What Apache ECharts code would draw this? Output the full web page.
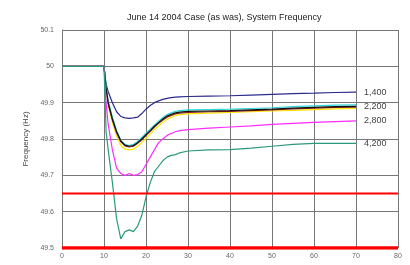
<!DOCTYPE html>
<html>
<head>
<meta charset="utf-8">
<script src="https://cdn.jsdelivr.net/npm/echarts@6/dist/echarts.min.js"></script>
<style>
  html, body { margin: 0; padding: 0; background: #fff; }
  #main { width: 410px; height: 265px; }
</style>
</head>
<body>
<div id="main"></div>
<script>
// time in seconds
const times = [0, 10, 10.5, 11, 12, 13, 14, 15, 16, 17, 18, 19, 20, 21, 22, 23, 24, 25, 26, 27, 28, 30, 35, 40, 45, 50, 55, 60, 65, 70];

const f1400 = [50, 50, 49.95, 49.93, 49.9, 49.875, 49.862, 49.858, 49.857, 49.858, 49.86, 49.87, 49.882, 49.892, 49.9, 49.905, 49.909, 49.912, 49.914, 49.915, 49.916, 49.917, 49.918, 49.919, 49.921, 49.923, 49.925, 49.926, 49.928, 49.929];
const f2200 = [50, 50, 49.94, 49.9, 49.855, 49.82, 49.795, 49.783, 49.78, 49.782, 49.79, 49.8, 49.812, 49.823, 49.835, 49.845, 49.855, 49.863, 49.868, 49.872, 49.874, 49.876, 49.877, 49.878, 49.88, 49.882, 49.885, 49.887, 49.889, 49.89];
const fCyan = [50, 50, 49.945, 49.905, 49.86, 49.823, 49.797, 49.785, 49.782, 49.785, 49.793, 49.804, 49.816, 49.827, 49.839, 49.849, 49.859, 49.867, 49.872, 49.876, 49.878, 49.88, 49.881, 49.882, 49.884, 49.886, 49.889, 49.891, 49.893, 49.894];
const fRed = [50, 50, 49.938, 49.897, 49.852, 49.817, 49.792, 49.781, 49.778, 49.78, 49.788, 49.798, 49.81, 49.821, 49.833, 49.843, 49.852, 49.86, 49.865, 49.869, 49.871, 49.873, 49.875, 49.876, 49.878, 49.88, 49.883, 49.885, 49.887, 49.888];
const fYellow = [50, 50, 49.935, 49.893, 49.845, 49.808, 49.782, 49.772, 49.77, 49.772, 49.78, 49.79, 49.802, 49.814, 49.826, 49.836, 49.846, 49.854, 49.86, 49.864, 49.867, 49.869, 49.871, 49.873, 49.875, 49.877, 49.879, 49.881, 49.883, 49.884];
const f2800 = [50, 50, 49.9, 49.84, 49.77, 49.72, 49.705, 49.7, 49.705, 49.7, 49.702, 49.71, 49.73, 49.75, 49.77, 49.79, 49.8, 49.81, 49.815, 49.82, 49.823, 49.826, 49.83, 49.833, 49.836, 49.84, 49.843, 49.846, 49.848, 49.85];
const f4200 = [50, 50, 49.82, 49.77, 49.68, 49.58, 49.525, 49.545, 49.55, 49.545, 49.56, 49.59, 49.64, 49.68, 49.71, 49.725, 49.74, 49.75, 49.755, 49.757, 49.762, 49.767, 49.77, 49.771, 49.775, 49.78, 49.785, 49.788, 49.788, 49.788];

const limitLow = 49.65;
const limitFloor = 49.5;
const xTicks = [0, 80];

function pairs(vals) {
  return times.map((t, i) => [t, vals[i]]);
}

function line(name, vals, color, label) {
  return {
    name: name,
    type: 'line',
    data: pairs(vals),
    symbol: 'none',
    lineStyle: { color: color, width: 1.2 },
    endLabel: {
      show: !!label,
      formatter: label || '',
      color: '#444',
      fontSize: 9,
      fontFamily: 'Liberation Sans',
      distance: 8
    },
    z: 3
  };
}

const chart = echarts.init(document.getElementById('main'));
chart.setOption({
  animation: false,
  backgroundColor: '#fff',
  title: {
    text: 'June 14 2004 Case (as was), System Frequency',
    left: 122,
    top: 8,
    textStyle: { fontSize: 9, fontWeight: 'normal', color: '#222', fontFamily: 'Liberation Sans' }
  },
  grid: { left: 62, right: 12, top: 30, bottom: 17 },
  xAxis: {
    type: 'value',
    min: 0,
    max: 80,
    interval: 10,
    axisLine: { show: false },
    axisTick: { show: false },
    axisLabel: { color: '#666', fontSize: 7, fontFamily: 'Liberation Sans', margin: 5 },
    splitLine: { show: true, lineStyle: { color: '#777', width: 1 } }
  },
  yAxis: {
    type: 'value',
    min: 49.5,
    max: 50.1,
    interval: 0.1,
    name: 'Frequency (Hz)',
    nameLocation: 'middle',
    nameGap: 32,
    nameTextStyle: { color: '#444', fontSize: 8, fontFamily: 'Liberation Sans' },
    axisLine: { show: true, lineStyle: { color: '#777' } },
    axisTick: { show: false },
    axisLabel: {
      color: '#666', fontSize: 7, fontFamily: 'Liberation Sans', margin: 8,
      formatter: v => String(Math.round(v * 10) / 10)
    },
    splitLine: { show: true, lineStyle: { color: '#777', width: 1 } }
  },
  series: [
    line('1,400', f1400, '#2b2b8c', '1,400'),
    line('yellow', fYellow, '#ffe600'),
    line('red', fRed, '#8b1a1a'),
    line('cyan', fCyan, '#30d8d8'),
    line('2,200', f2200, '#111111', '2,200'),
    line('2,800', f2800, '#ff2cff', '2,800'),
    line('4,200', f4200, '#2a9a7c', '4,200'),
    {
      name: 'limit',
      type: 'line',
      data: xTicks.map(t => [t, limitLow]),
      symbol: 'none',
      lineStyle: { color: '#ff0000', width: 2 },
      z: 4
    },
    {
      name: 'floor',
      type: 'line',
      data: xTicks.map(t => [t, limitFloor]),
      symbol: 'none',
      lineStyle: { color: '#ff0000', width: 3.5 },
      z: 4
    }
  ]
});
</script>
</body>
</html>
